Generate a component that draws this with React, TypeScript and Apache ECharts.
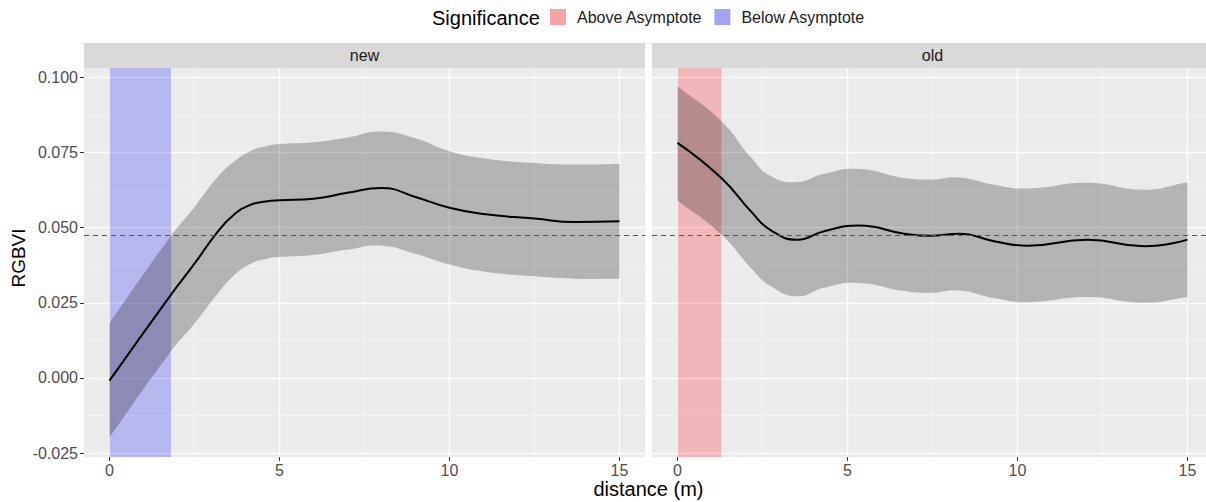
import React, { useEffect, useRef } from "react";
import * as echarts from "echarts";

// ---------- data ----------
const panels = ["new", "old"];
const xMajor = [0, 5, 10, 15];
const xMinor = [2.5, 7.5, 12.5];
const yMajor = [-0.025, 0, 0.025, 0.05, 0.075, 0.1];
const yMinor = [-0.0125, 0.0125, 0.0375, 0.0625, 0.0875];
const xRange = [-0.75, 15.75];
const yRange = [-0.0263, 0.1031];
const asymptote = 0.0473;

const newX = [0, 1.81, 2.5, 3.15, 3.65, 4.15, 4.6, 5, 6, 7, 8, 9, 10, 11, 12.5, 13.7, 15];
const newFit = [-0.0009, 0.0277, 0.038, 0.0482, 0.0542, 0.0576, 0.0587, 0.0591, 0.0596, 0.0616, 0.0632, 0.0602, 0.0566, 0.0545, 0.053, 0.0519, 0.0521];
const newUpper = [0.0183, 0.0473, 0.0568, 0.0664, 0.0718, 0.0755, 0.0771, 0.0778, 0.0784, 0.08, 0.082, 0.0797, 0.0754, 0.0731, 0.0715, 0.071, 0.0712];
const newLower = [-0.0197, 0.0089, 0.0181, 0.0276, 0.034, 0.038, 0.0396, 0.0402, 0.0409, 0.0427, 0.044, 0.0413, 0.0377, 0.0354, 0.0338, 0.033, 0.033];

const oldX = [0, 1.29, 2.16, 2.75, 3.53, 4.31, 5.34, 6.67, 7.45, 8.28, 9.31, 10.29, 12.06, 13.73, 15];
const oldFit = [0.0782, 0.0665, 0.0554, 0.0491, 0.046, 0.0488, 0.0507, 0.048, 0.0473, 0.048, 0.0455, 0.044, 0.046, 0.0438, 0.046];
const oldUpper = [0.097, 0.0854, 0.0734, 0.0671, 0.0652, 0.0679, 0.0695, 0.0665, 0.066, 0.0667, 0.0643, 0.063, 0.0649, 0.0626, 0.0651];
const oldLower = [0.059, 0.0477, 0.0366, 0.0305, 0.0272, 0.03, 0.0316, 0.0289, 0.0283, 0.0291, 0.0266, 0.0252, 0.0269, 0.025, 0.0269];

const belowAsymptoteSpan = [0, 1.81]; // "new" panel
const aboveAsymptoteSpan = [0, 1.29]; // "old" panel
const legendNames = ["Above Asymptote", "Below Asymptote"];

// ---------- styles ----------
const FONT = '"Liberation Sans", Arial, Helvetica, sans-serif';
const GRID_LEFT = [84, 652];
const GRID_TOP = 68;
const GRID_W = 561;
const GRID_H = 389;
const SMOOTH = 0.5;

function rectRender(fill: string) {
  return (params: any, api: any) => {
    const p0 = api.coord([api.value(0), yRange[1]]);
    const p1 = api.coord([api.value(1), yRange[0]]);
    return {
      type: "rect",
      shape: { x: p0[0], y: p0[1], width: p1[0] - p0[0], height: p1[1] - p0[1] },
      style: { fill },
    };
  };
}

function bandRender(xs: number[], up: number[], lo: number[]) {
  return (params: any, api: any) => {
    const n = xs.length;
    const top = xs.map((x, i) => api.coord([x, up[i]]));
    const bot = xs.map((x, i) => api.coord([x, lo[i]])).reverse();
    const pts = [top[0], ...top, top[n - 1], bot[0], ...bot, bot[n - 1]];
    return {
      type: "polygon",
      shape: { points: pts, smooth: SMOOTH },
      style: { fill: "rgba(0,0,0,0.24)" },
    };
  };
}

function xAxes(gridIndex: number) {
  return [
    {
      type: "value",
      gridIndex,
      min: xRange[0],
      max: xRange[1],
      position: "bottom",
      axisLine: { show: false, onZero: false },
      axisTick: { show: true, length: 4, lineStyle: { color: "#333", width: 1 }, customValues: xMajor },
      axisLabel: { customValues: xMajor, color: "#4d4d4d", fontSize: 16, fontFamily: FONT, margin: 5 },
      splitLine: { show: true, lineStyle: { color: "#ffffff", width: 1.3 } },
    },
    {
      type: "value",
      gridIndex,
      min: xRange[0],
      max: xRange[1],
      position: "top",
      axisLine: { show: false, onZero: false },
      axisTick: { show: false, customValues: xMinor },
      axisLabel: { show: false, customValues: xMinor },
      splitLine: { show: true, lineStyle: { color: "#f6f6f6", width: 0.7 } },
    },
  ];
}

function yAxes(gridIndex: number, labels: boolean) {
  return [
    {
      type: "value",
      gridIndex,
      min: yRange[0],
      max: yRange[1],
      position: "left",
      axisLine: { show: false, onZero: false },
      axisTick: { show: labels, length: 4, lineStyle: { color: "#333", width: 1 }, customValues: yMajor },
      axisLabel: {
        show: labels,
        customValues: yMajor,
        color: "#4d4d4d",
        fontSize: 16,
        fontFamily: FONT,
        margin: 6,
        formatter: (v: number) => v.toFixed(3),
      },
      splitLine: { show: true, lineStyle: { color: "#ffffff", width: 1.3 } },
    },
    {
      type: "value",
      gridIndex,
      min: yRange[0],
      max: yRange[1],
      position: "right",
      axisLine: { show: false, onZero: false },
      axisTick: { show: false, customValues: yMinor },
      axisLabel: { show: false, customValues: yMinor },
      splitLine: { show: true, lineStyle: { color: "#f6f6f6", width: 0.7 } },
    },
  ];
}

function fitLine(name: string, axisIdx: number, xs: number[], ys: number[]) {
  return {
    type: "line",
    name,
    xAxisIndex: axisIdx,
    yAxisIndex: axisIdx,
    data: xs.map((x, i) => [x, ys[i]]),
    smooth: SMOOTH,
    symbol: "none",
    z: 3,
    lineStyle: { color: "#000000", width: 2 },
    markLine: {
      silent: true,
      symbol: "none",
      precision: 6,
      label: { show: false },
      lineStyle: { color: "#555555", type: [5, 4], width: 1 },
      data: [{ yAxis: asymptote }],
      z: 4,
    },
  };
}

export default function App() {
  const ref = useRef<HTMLDivElement>(null);

  useEffect(() => {
    if (!ref.current) return;
    const chart = echarts.init(ref.current, undefined, { renderer: "svg" });

    const strips: any[] = [];
    panels.forEach((p, i) => {
      strips.push({
        type: "rect",
        shape: { x: GRID_LEFT[i], y: 43, width: GRID_W, height: 25 },
        style: { fill: "#d9d9d9" },
        silent: true,
      });
      strips.push({
        type: "text",
        x: GRID_LEFT[i] + GRID_W / 2,
        y: 55.5,
        style: {
          text: p,
          fill: "#1a1a1a",
          fontSize: 16,
          fontFamily: FONT,
          align: "center",
          verticalAlign: "middle",
          textAlign: "center",
          textVerticalAlign: "middle",
        },
        silent: true,
      });
    });

    const option: any = {
      animation: false,
      backgroundColor: "#ffffff",
      textStyle: { fontFamily: FONT },
      grid: panels.map((_, i) => ({
        left: GRID_LEFT[i],
        top: GRID_TOP,
        width: GRID_W,
        height: GRID_H,
        show: true,
        backgroundColor: "#ebebeb",
        borderWidth: 0,
        containLabel: false,
        outerBoundsMode: "none",
      })),
      xAxis: [...xAxes(0), ...xAxes(1)],
      yAxis: [...yAxes(0, true), ...yAxes(1, false)],
      legend: {
        left: 550,
        top: 9,
        padding: 0,
        itemWidth: 16,
        itemHeight: 16,
        itemGap: 12,
        icon: "rect",
        selectedMode: false,
        textStyle: { fontSize: 16, color: "#1a1a1a", fontFamily: FONT, padding: [0, 0, 0, 6] },
        data: [
          { name: legendNames[0], itemStyle: { color: "#f3a4a4" } },
          { name: legendNames[1], itemStyle: { color: "#a4a4f3" } },
        ],
      },
      graphic: [
        ...strips,
        {
          type: "text",
          x: 432,
          y: 18,
          style: {
            text: "Significance",
            fill: "#000000",
            fontSize: 20,
            fontFamily: FONT,
            align: "left",
            verticalAlign: "middle",
            textAlign: "left",
            textVerticalAlign: "middle",
          },
        },
        {
          type: "text",
          x: 648.5,
          y: 489,
          style: {
            text: "distance (m)",
            fill: "#000000",
            fontSize: 20,
            fontFamily: FONT,
            align: "center",
            verticalAlign: "middle",
            textAlign: "center",
            textVerticalAlign: "middle",
          },
        },
        {
          type: "text",
          x: 18,
          y: 258,
          rotation: Math.PI / 2,
          style: {
            text: "RGBVI",
            fill: "#000000",
            fontSize: 19,
            fontFamily: FONT,
            align: "center",
            verticalAlign: "middle",
            textAlign: "center",
            textVerticalAlign: "middle",
          },
        },
      ],
      series: [
        {
          type: "custom",
          name: legendNames[1],
          xAxisIndex: 0,
          yAxisIndex: 0,
          z: 1,
          silent: true,
          itemStyle: { color: "#a4a4f3" },
          data: [[belowAsymptoteSpan[0], belowAsymptoteSpan[1]]],
          renderItem: rectRender("rgba(0,0,255,0.22)"),
        },
        {
          type: "custom",
          name: legendNames[0],
          xAxisIndex: 2,
          yAxisIndex: 2,
          z: 1,
          silent: true,
          itemStyle: { color: "#f3a4a4" },
          data: [[aboveAsymptoteSpan[0], aboveAsymptoteSpan[1]]],
          renderItem: rectRender("rgba(255,0,0,0.22)"),
        },
        {
          type: "custom",
          name: "new band",
          xAxisIndex: 0,
          yAxisIndex: 0,
          z: 2,
          silent: true,
          data: [[0, 0]],
          renderItem: bandRender(newX, newUpper, newLower),
        },
        {
          type: "custom",
          name: "old band",
          xAxisIndex: 2,
          yAxisIndex: 2,
          z: 2,
          silent: true,
          data: [[0, 0]],
          renderItem: bandRender(oldX, oldUpper, oldLower),
        },
        fitLine("new fit", 0, newX, newFit),
        fitLine("old fit", 2, oldX, oldFit),
      ],
    };

    chart.setOption(option);
    return () => chart.dispose();
  }, []);

  return (
    <div
      ref={ref}
      style={{ position: "absolute", left: 0, top: 0, width: 1206, height: 502, overflow: "hidden" }}
    />
  );
}
